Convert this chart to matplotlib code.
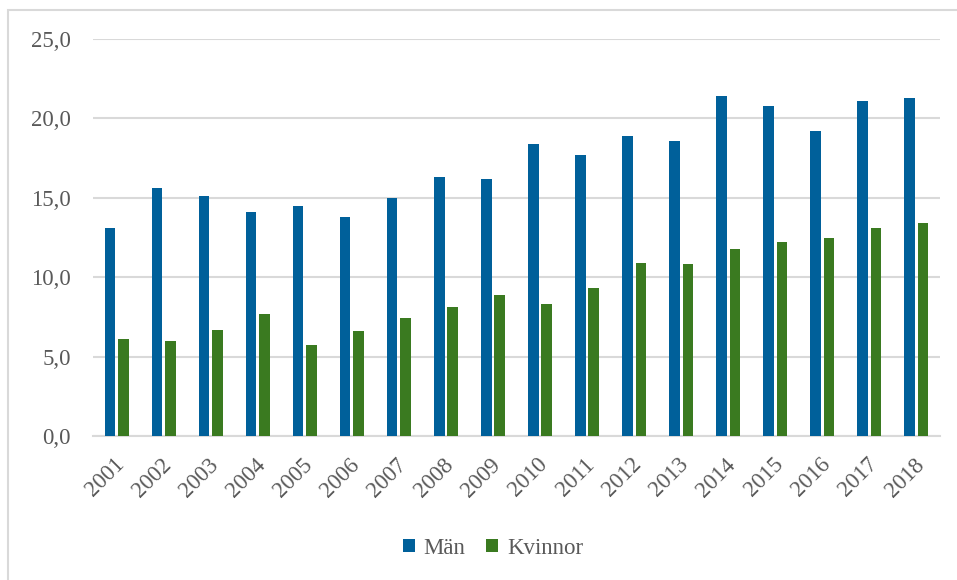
import matplotlib
matplotlib.use("Agg")
import matplotlib.pyplot as plt
import matplotlib.transforms as mtransforms
import numpy as np
from matplotlib.patches import Rectangle

years = ["2001", "2002", "2003", "2004", "2005", "2006", "2007", "2008", "2009",
         "2010", "2011", "2012", "2013", "2014", "2015", "2016", "2017", "2018"]
man = [13.1, 15.6, 15.1, 14.1, 14.5, 13.8, 15.0, 16.3, 16.2,
       18.4, 17.7, 18.9, 18.6, 21.4, 20.8, 19.2, 21.1, 21.3]
kvinnor = [6.1, 6.0, 6.7, 7.7, 5.7, 6.6, 7.4, 8.1, 8.9,
           8.3, 9.3, 10.9, 10.8, 11.8, 12.2, 12.5, 13.1, 13.4]
yticks = [0, 5, 10, 15, 20, 25]

blue = "#00609a"
green = "#3a7a20"
text_gray = "#595959"
grid_gray = "#d9d9d9"

plt.rcParams["font.family"] = ["Liberation Serif", "DejaVu Serif"]
fs = 16.5

W, H = 957, 580
fig = plt.figure(figsize=(W / 100, H / 100), dpi=100)
ax = fig.add_axes([93 / W, 1 - 436 / H, (940 - 93) / W, (436 - 39) / H])

x = np.arange(len(years))
bw = 0.225
ax.bar(x - bw / 2 - 0.03, man, bw, color=blue, label="Män", zorder=3)
ax.bar(x + bw / 2 + 0.03, kvinnor, bw, color=green, label="Kvinnor", zorder=3)

ax.set_xlim(-0.5, len(years) - 0.5)
ax.set_ylim(0, 25)
ax.set_yticks(yticks)
ax.set_yticklabels([f"{v:.1f}".replace(".", ",") for v in yticks],
                   fontsize=fs, color=text_gray)
ax.set_xticks(x)
ax.set_xticklabels(years, rotation=45, ha="right", rotation_mode="anchor",
                   fontsize=fs, color=text_gray)
ax.tick_params(axis="both", length=0)
ax.tick_params(axis="y", pad=16)
ax.tick_params(axis="x", pad=13)

# nudge the rotated year labels a little to the left
shift = mtransforms.ScaledTranslation(-3 / 100, 0, fig.dpi_scale_trans)
for lbl in ax.get_xticklabels():
    lbl.set_transform(lbl.get_transform() + shift)

ax.grid(axis="y", color=grid_gray, linewidth=1.5, zorder=0)
for s in ["top", "right", "left"]:
    ax.spines[s].set_visible(False)
ax.spines["bottom"].set_color(grid_gray)
ax.spines["bottom"].set_linewidth(1.5)

# chart frame
fig.patches.append(Rectangle((8 / W, -0.05), 1.1, 1 - 10 / H + 0.05,
                             transform=fig.transFigure, fill=False,
                             edgecolor=grid_gray, linewidth=1.5))

fig.legend(loc="center", bbox_to_anchor=(493 / W, 1 - 548 / H), ncol=2,
           frameon=False, fontsize=fs, labelcolor=text_gray,
           handlelength=0.5, handleheight=0.5, handletextpad=0.4,
           columnspacing=0.9)

fig.savefig("out.png", dpi=100)
